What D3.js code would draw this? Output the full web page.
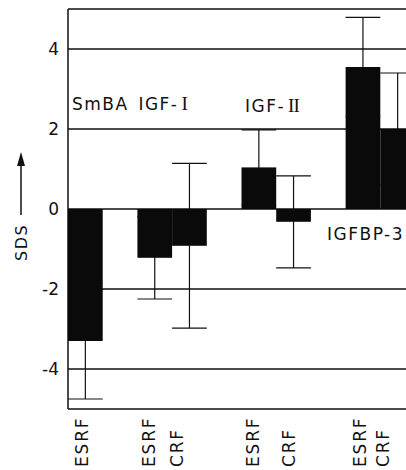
<!DOCTYPE html>
<html>
<head>
<meta charset="utf-8">
<script src="https://cdn.jsdelivr.net/npm/d3@7"></script>
<style>
  body { margin: 0; background: #fff; }
  text { font-family: "DejaVu Sans", sans-serif; fill: #111; }
</style>
</head>
<body>
<div id="chart"></div>
<script>
// hormone groups and SDS values (mean, SD) for the two patient series
const groups = ["SmBA", "IGF-I", "IGF-II", "IGFBP-3"];
const groupStem = ["SmBA", "IGF-", "IGF-", "IGFBP-3"];
const groupRoman = ["", "I", "II", ""];
const series = ["ESRF", "CRF"];
const esrfMean = [-3.3, -1.22, 1.04, 3.55];
const esrfSD = [1.45, 1.03, 0.94, 1.24];
const crfMean = [null, -0.92, -0.32, 2.0];
const crfSD = [null, 2.06, 1.15, 1.4];
const yTicks = [-4, -2, 0, 2, 4];
const yGrid = [-4, -2, 0, 2, 4];

const width = 406, height = 470;
const margin = { top: 9, left: 68, bottom: 61 };
const slotW = 34.7;

// flat list of bars + gap slots
let bars = [], slots = [];
groups.forEach(function (g, i) {
    if (esrfMean[i] != null) { bars.push({ group: g, s: "ESRF", mean: esrfMean[i], sd: esrfSD[i], key: g + "|ESRF" }); slots.push(g + "|ESRF"); }
    if (crfMean[i] != null) { bars.push({ group: g, s: "CRF", mean: crfMean[i], sd: crfSD[i], key: g + "|CRF" }); slots.push(g + "|CRF"); }
    if (i < groups.length - 1) slots.push("gap" + i);
});

const svg = d3.select("#chart").append("svg")
    .attr("width", width)
    .attr("height", height);

const x = d3.scaleBand().domain(slots)
    .range([margin.left, margin.left + slots.length * slotW]);
const y = d3.scaleLinear().domain([-5, 5]).range([height - margin.bottom, margin.top]);

// grid lines + frame
svg.append("g").selectAll("line")
    .data(yGrid.concat([5, -5]))
    .enter().append("line")
    .attr("x1", margin.left).attr("x2", width + 10)
    .attr("y1", d => y(d)).attr("y2", d => y(d))
    .attr("stroke", "#111").attr("stroke-width", 1.3);

svg.append("line")
    .attr("x1", margin.left).attr("x2", margin.left)
    .attr("y1", y(5)).attr("y2", y(-5))
    .attr("stroke", "#111").attr("stroke-width", 1.5);

// y axis labels
const yAxis = d3.axisLeft(y).tickValues(yTicks).tickSize(0).tickPadding(9)
    .tickFormat(d => d < 0 ? "-" + Math.abs(d) : d);
const ya = svg.append("g").attr("transform", "translate(" + margin.left + ",0)").call(yAxis);
ya.select(".domain").remove();
ya.selectAll("text").style("font-size", "17px").attr("fill", "#111")
    .style("font-family", "DejaVu Sans, sans-serif");

// error bars (drawn symmetric, inner half hides behind the bar)
const eb = svg.append("g").attr("stroke", "#111").attr("stroke-width", 1.2);
eb.selectAll(".stem").data(bars).enter().append("line")
    .attr("x1", d => x(d.key) + x.bandwidth() / 2)
    .attr("x2", d => x(d.key) + x.bandwidth() / 2)
    .attr("y1", d => y(d.mean - d.sd))
    .attr("y2", d => y(d.mean + d.sd));
eb.selectAll(".capHi").data(bars).enter().append("line")
    .attr("x1", d => x(d.key)).attr("x2", d => x(d.key) + x.bandwidth())
    .attr("y1", d => y(d.mean + d.sd)).attr("y2", d => y(d.mean + d.sd));
eb.selectAll(".capLo").data(bars).enter().append("line")
    .attr("x1", d => x(d.key)).attr("x2", d => x(d.key) + x.bandwidth())
    .attr("y1", d => y(d.mean - d.sd)).attr("y2", d => y(d.mean - d.sd));

// bars
svg.append("g").selectAll("rect")
    .data(bars)
    .enter().append("rect")
    .attr("x", d => x(d.key))
    .attr("width", x.bandwidth())
    .attr("y", d => y(Math.max(0, d.mean)))
    .attr("height", d => Math.abs(y(d.mean) - y(0)))
    .attr("fill", "#0a0a0a");

// group names, nudged like the original figure
const groupPos = { "SmBA": [4, 2.47], "IGF-I": [1, 2.47], "IGF-II": [3.5, 2.42], "IGFBP-3": [-18.6, -0.78] };
const gl = svg.append("g").selectAll("text")
    .data(groups)
    .enter().append("text")
    .attr("x", d => x(d + "|ESRF") + groupPos[d][0])
    .attr("y", d => y(groupPos[d][1]))
    .style("font-size", "17px")
    .style("letter-spacing", "1.5px");
gl.append("tspan").text((d, i) => groupStem[i]);
gl.append("tspan")
    .style("font-family", "'Liberation Serif', 'DejaVu Serif', serif")
    .style("font-size", "19px")
    .style("letter-spacing", "-1px")
    .attr("dx", 3)
    .text((d, i) => groupRoman[i]);

// rotated bar labels along the bottom
const labelNudge = { "SmBA|ESRF": -3, "IGF-I|ESRF": -6, "IGF-I|CRF": -12, "IGF-II|ESRF": -6, "IGF-II|CRF": -5, "IGFBP-3|ESRF": -3, "IGFBP-3|CRF": -15 };
svg.append("g").selectAll("text")
    .data(bars)
    .enter().append("text")
    .attr("transform", d => "translate(" + (x(d.key) + x.bandwidth() / 2 + labelNudge[d.key] + 6) + ",467) rotate(-90)")
    .style("font-size", "17px")
    .style("letter-spacing", "1.8px")
    .text(d => d.s);

// SDS axis title with arrow
svg.append("text")
    .attr("transform", "translate(27,261) rotate(-90)")
    .style("font-size", "16px")
    .style("letter-spacing", "1.5px")
    .text("SDS");
svg.append("line")
    .attr("x1", 21).attr("x2", 21).attr("y1", 215).attr("y2", 160)
    .attr("stroke", "#111").attr("stroke-width", 1.5);
svg.append("path")
    .attr("d", "M21,152 L17,166 L25,166 Z")
    .attr("fill", "#111");
</script>
</body>
</html>
